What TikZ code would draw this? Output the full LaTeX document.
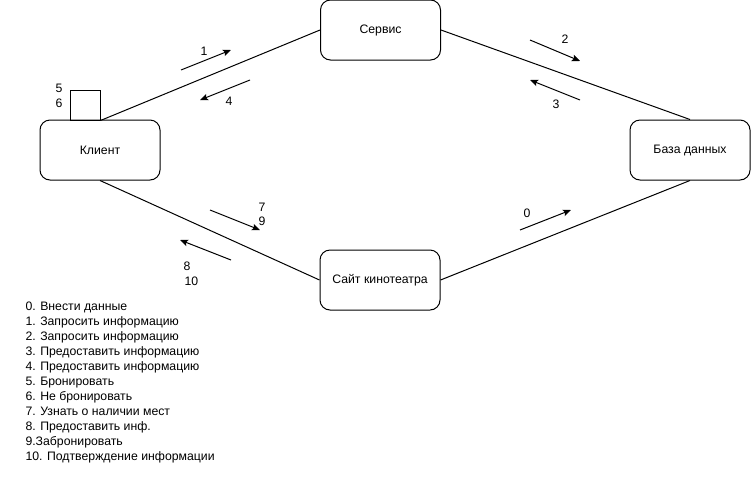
\documentclass[tikz,border=0pt]{standalone}
\usepackage{fontspec}
\setmainfont{Liberation Sans}
\usetikzlibrary{arrows.meta}
\begin{document}
\begin{tikzpicture}[x=0.75pt,y=-0.75pt,
  font=\fontsize{9.2}{11.25}\selectfont,
  line width=0.75pt,
  entity/.style={draw,rounded corners=7.5pt,minimum width=90pt,minimum height=45pt,inner sep=0pt},
  flag/.style={draw,minimum width=22.5pt,minimum height=22.5pt,inner sep=0pt},
  link/.style={draw},
  flow/.style={-{Stealth[length=6pt,width=5pt,inset=1.2pt]}},
  num/.style={inner sep=0pt,anchor=base}]
\useasboundingbox (0,0) rectangle (752,497);

% entities
\node[entity] (serv) at (380.5,30) {Сервис};
\node[entity] (client) at (100,150) {Клиент};
\node[entity] (db) at (690,150) {База данных};
\node[entity] (site) at (380,280) {Сайт кинотеатра};
\node[flag] (mark) at (85,105) {};
\node[num] at (59,92) {5};
\node[num] at (59,107) {6};

% connections
\draw[link] (mark.south east) -- (serv.west);
\draw[link] (serv.east) -- (db.north);
\draw[link] (client.south) -- (site.west);
\draw[link] (site.east) -- (db.south);

% message arrows
\coordinate (a1s) at (181,70);  \coordinate (a1e) at (231,50);
\coordinate (a4s) at (250,80);  \coordinate (a4e) at (200,100);
\coordinate (a2s) at (530,40);  \coordinate (a2e) at (580,61);
\coordinate (a3s) at (580,100); \coordinate (a3e) at (530,80);
\coordinate (a7s) at (210,210); \coordinate (a7e) at (260,230);
\coordinate (a8s) at (231,260); \coordinate (a8e) at (180,240);
\coordinate (a0s) at (520,230); \coordinate (a0e) at (571,210);
\draw[flow] (a1s) -- (a1e);
\draw[flow] (a4s) -- (a4e);
\draw[flow] (a2s) -- (a2e);
\draw[flow] (a3s) -- (a3e);
\draw[flow] (a7s) -- (a7e);
\draw[flow] (a8s) -- (a8e);
\draw[flow] (a0s) -- (a0e);

% arrow numbers
\node[num] at (204,55) {1};
\node[num] at (229,105) {4};
\node[num] at (565,43) {2};
\node[num] at (556,108) {3};
\node[num] at (262,211) {7};
\node[num] at (262,225) {9};
\node[num] at (187,270) {8};
\node[num,anchor=base west] at (184,285) {10};
\node[num] at (527,217) {0};

% legend
\node[anchor=north west,align=left,inner sep=0pt] (legend) at (25,301.5) {0. Внести данные\\
1. Запросить информацию\\
2. Запросить информацию\\
3. Предоставить информацию\\
4. Предоставить информацию\\
5. Бронировать\\
6. Не бронировать\\
7. Узнать о наличии мест\\
8. Предоставить инф.\\
9.Забронировать\\
10. Подтверждение информации};
\end{tikzpicture}
\end{document}
